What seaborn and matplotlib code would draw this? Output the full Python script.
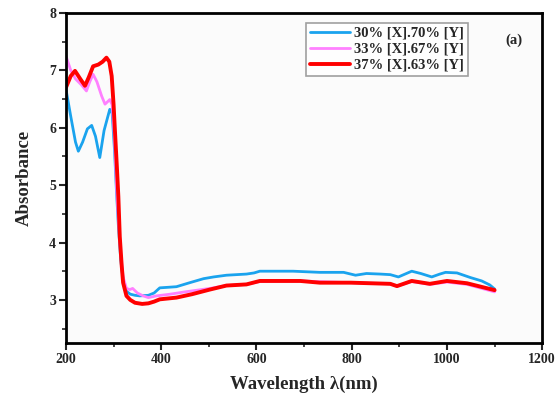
import matplotlib
matplotlib.use("Agg")
import matplotlib.pyplot as plt
import seaborn as sns
import pandas as pd
from matplotlib.ticker import MultipleLocator

sns.set_theme(style="white")
plt.rcParams['font.family'] = ['Liberation Serif', 'DejaVu Serif']
plt.rcParams['font.weight'] = 'bold'

labels = ["30% [X].70% [Y]", "33% [X].67% [Y]", "37% [X].63% [Y]"]
colors = ["#1AA3EE", "#FF80FF", "#FF0000"]

wl_30 = [200, 210, 220, 226, 235, 245, 254, 262, 271, 280, 292, 297, 302, 306, 310, 315, 320, 327, 335, 345,
         355, 373, 385, 397, 415, 432, 460, 489, 510, 537, 579, 595, 607, 640, 677, 733, 783, 808, 831, 860,
         881, 898, 926, 945, 968, 985, 997, 1021, 1049, 1073, 1090, 1100]
ab_30 = [6.67, 6.2, 5.75, 5.59, 5.75, 5.98, 6.04, 5.85, 5.48, 5.95, 6.32, 6.25, 5.6, 4.9, 4.3, 3.7, 3.35, 3.15, 3.1, 3.08,
         3.07, 3.08, 3.12, 3.21, 3.22, 3.23, 3.30, 3.37, 3.40, 3.43, 3.45, 3.47, 3.50, 3.50, 3.50, 3.48, 3.48, 3.43, 3.46, 3.45,
         3.44, 3.40, 3.50, 3.46, 3.40, 3.45, 3.48, 3.47, 3.39, 3.33, 3.26, 3.19]

wl_33 = [200, 210, 220, 232, 243, 250, 257, 265, 275, 282, 292, 297, 302, 306, 310, 315, 320, 327, 334, 340,
         350, 362, 373, 390, 419, 450, 502, 537, 579, 607, 692, 798, 881, 895, 926, 964, 1000, 1042, 1100]
ab_33 = [7.25, 7.0, 6.85, 6.75, 6.64, 6.8, 6.93, 6.8, 6.55, 6.41, 6.49, 6.4, 5.8, 5.0, 4.4, 3.8, 3.4, 3.2, 3.18, 3.2,
         3.12, 3.07, 3.04, 3.07, 3.10, 3.14, 3.2, 3.25, 3.27, 3.32, 3.33, 3.30, 3.28, 3.24, 3.32, 3.27, 3.31, 3.27, 3.14]

wl_37 = [200, 210, 219, 230, 240, 248, 257, 268, 277, 285, 291, 296, 300, 303, 307, 310, 313, 317, 320, 327,
         335, 345, 360, 373, 385, 397, 432, 465, 502, 537, 579, 607, 692, 733, 798, 881, 895, 926, 964, 1000, 1042, 1100]
ab_37 = [6.70, 6.90, 6.99, 6.85, 6.73, 6.88, 7.07, 7.10, 7.15, 7.22, 7.15, 6.9, 6.4, 5.92, 5.3, 4.8, 4.1, 3.6, 3.30, 3.07,
         3.0, 2.95, 2.93, 2.94, 2.97, 3.01, 3.04, 3.1, 3.18, 3.25, 3.27, 3.33, 3.33, 3.30, 3.30, 3.28, 3.24, 3.33, 3.28, 3.33, 3.29, 3.17]

series = [(wl_30, ab_30), (wl_33, ab_33), (wl_37, ab_37)]
widths = [2.0, 2.0, 2.8]

fig = plt.figure(figsize=(5.59, 4.03), dpi=100)
ax = fig.add_axes([0.118, 0.149, 0.852, 0.819])
ax.set_facecolor("#fbfbfb")

for (wl, ab), lab, col, lw in zip(series, labels, colors, widths):
    df = pd.DataFrame({"wl": wl, "ab": ab})
    sns.lineplot(data=df, x="wl", y="ab", ax=ax, color=col, linewidth=lw, label=lab)

ax.set_xlim(200, 1200)
ax.set_ylim(2.25, 8)
ax.xaxis.set_major_locator(MultipleLocator(200))
ax.xaxis.set_minor_locator(MultipleLocator(100))
ax.set_yticks([3, 4, 5, 6, 7, 8])
ax.yaxis.set_minor_locator(MultipleLocator(0.5))

ax.tick_params(axis='both', which='major', direction='out', length=5, width=1.5,
               labelsize=10, bottom=True, left=True, top=False, right=False, pad=2)
ax.tick_params(axis='both', which='minor', direction='out', length=3, width=1.2,
               bottom=True, left=True, top=False, right=False)
for lab in ax.get_xticklabels() + ax.get_yticklabels():
    lab.set_fontweight('bold')

for sp in ax.spines.values():
    sp.set_color('black')
    sp.set_linewidth(2)

ax.set_xlabel("Wavelength λ(nm)", fontsize=13.5, fontweight='bold', labelpad=7)
ax.set_ylabel("Absorbance", fontsize=13.5, fontweight='bold', labelpad=12)

leg = ax.legend(loc='upper left', bbox_to_anchor=(0.504, 0.97), fontsize=10.5, frameon=True,
                fancybox=False, edgecolor='#888888', handlelength=2.75, handletextpad=0.3,
                borderpad=0.25, labelspacing=0.2, borderaxespad=0)
leg.get_frame().set_linewidth(1.2)
for t in leg.get_texts():
    t.set_fontweight('bold')

ax.text(0.94, 0.918, "(a)", transform=ax.transAxes, fontsize=10.5, fontweight='bold',
        ha='center', va='center')

fig.savefig("out.png", dpi=100, facecolor='white')
